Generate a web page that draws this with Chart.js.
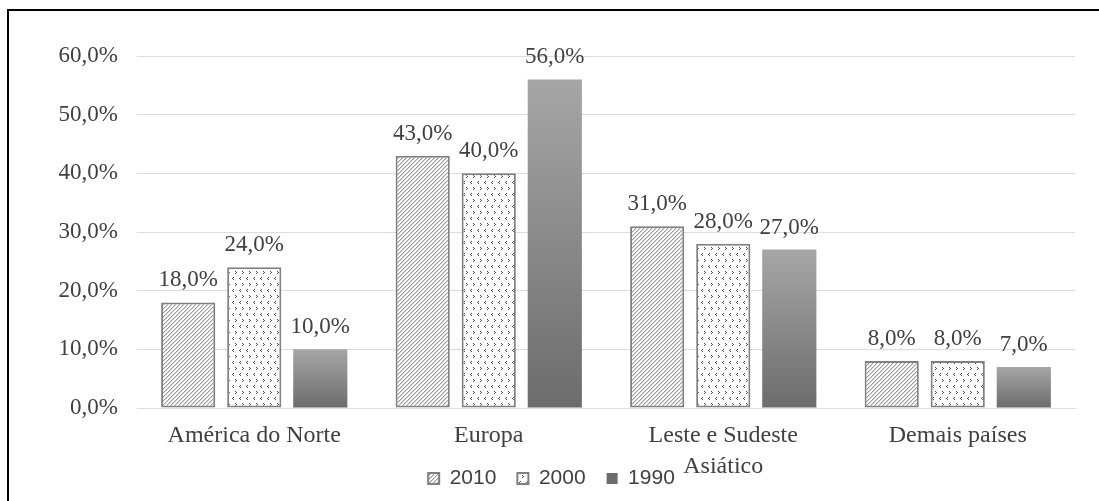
<!DOCTYPE html>
<html>
<head>
<meta charset="utf-8">
<style>
  html, body { margin: 0; padding: 0; background: #ffffff; }
  #wrap { width: 1099px; height: 501px; }
</style>
<script src="https://cdn.jsdelivr.net/npm/chart.js@4.4.1/dist/chart.umd.min.js"></script>
</head>
<body>
<div id="wrap"><canvas id="c" width="1099" height="501"></canvas></div>
<script>
// Regions (the third one wraps onto two lines)
const categories = ['América do Norte', 'Europa', ['Leste e Sudeste', 'Asiático'], 'Demais países'];
const seriesNames = ['2010', '2000', '1990'];
const values2010 = [18, 43, 31, 8];
const values2000 = [24, 40, 28, 8];
const values1990 = [10, 56, 27, 7];
const yMin = 0, yMax = 60, yStep = 10;

const fmtPct = v => v.toFixed(1).replace('.', ',') + '%';
const TEXT = '#404040';
const SERIF = "'Liberation Serif', 'Times New Roman', serif";
const SANS = "'Liberation Sans', Arial, sans-serif";

// Diagonal hatch fill
function hatchPattern() {
  const t = document.createElement('canvas');
  t.width = 4; t.height = 4;
  const g = t.getContext('2d');
  g.fillStyle = '#ffffff'; g.fillRect(0, 0, 4, 4);
  g.fillStyle = '#9a9a9a';
  for (let i = 0; i < 4; i++) g.fillRect(i, 3 - i, 1, 1);
  g.fillStyle = '#d6d6d6';
  for (let i = 0; i < 4; i++) g.fillRect(i, (4 - i) % 4, 1, 1);
  return g.createPattern(t, 'repeat');
}

// Small chevron dot fill
function chevronPattern() {
  const t = document.createElement('canvas');
  t.width = 7; t.height = 12;
  const g = t.getContext('2d');
  g.fillStyle = '#ffffff'; g.fillRect(0, 0, 7, 12);
  g.fillStyle = '#505050';
  // "<"
  g.fillRect(2, 1, 1, 1); g.fillRect(1, 2, 1, 1); g.fillRect(2, 3, 1, 1);
  // ">"
  g.fillRect(4, 7, 1, 1); g.fillRect(5, 8, 1, 1); g.fillRect(4, 9, 1, 1);
  return g.createPattern(t, 'repeat');
}

// Per-bar vertical gray gradient
function gradientFill(ctx) {
  const chart = ctx.chart;
  const y = chart.scales && chart.scales.y;
  if (ctx.dataIndex === undefined || !y || !chart.chartArea) return '#8a8a8a';
  const top = y.getPixelForValue(ctx.raw);
  const bottom = y.getPixelForValue(0);
  if (!isFinite(top) || !isFinite(bottom) || top === bottom) return '#8a8a8a';
  const gr = chart.ctx.createLinearGradient(0, top, 0, bottom);
  gr.addColorStop(0, '#a6a6a6');
  gr.addColorStop(1, '#6c6c6c');
  return gr;
}

// Let the wrapped category text run under the legend row,
// and nudge the legend row to its place
const layoutTweaks = {
  id: 'layoutTweaks',
  afterLayout(chart) {
    const x = chart.scales.x;
    x.bottom = chart.height;
    x.height = x.bottom - x.top;
    const lg = chart.legend;
    if (lg) { lg.left += 9; lg.right += 9; }
  }
};

// Outer frame lines (top and left edges)
const framePlugin = {
  id: 'frame',
  afterDraw(chart) {
    const c = chart.ctx;
    c.save();
    c.fillStyle = '#000000';
    c.fillRect(7, 9, 1099, 2);
    c.fillRect(7, 9, 2, 501);
    c.restore();
  }
};

// Value labels above each bar
const valueLabels = {
  id: 'valueLabels',
  afterDatasetsDraw(chart) {
    const c = chart.ctx;
    c.save();
    c.font = '23px ' + SERIF;
    c.fillStyle = TEXT;
    c.textAlign = 'center';
    c.textBaseline = 'alphabetic';
    chart.data.datasets.forEach((ds, di) => {
      const meta = chart.getDatasetMeta(di);
      meta.data.forEach((el, i) => {
        c.fillText(fmtPct(ds.data[i]), el.x, el.y - 16);
      });
    });
    c.restore();
  }
};

const common = { borderSkipped: false, categoryPercentage: 0.845, barPercentage: 0.82 };

new Chart(document.getElementById('c'), {
  type: 'bar',
  data: {
    labels: categories,
    datasets: [
      Object.assign({ label: seriesNames[0], data: values2010, backgroundColor: hatchPattern(), borderColor: '#808080', borderWidth: 2 }, common),
      Object.assign({ label: seriesNames[1], data: values2000, backgroundColor: chevronPattern(), borderColor: '#808080', borderWidth: 2 }, common),
      Object.assign({ label: seriesNames[2], data: values1990, backgroundColor: gradientFill, borderColor: '#8a8a8a', borderWidth: 0 }, common)
    ]
  },
  options: {
    responsive: false,
    devicePixelRatio: 1,
    animation: false,
    layout: { padding: { left: 10, right: 24, top: 56, bottom: 2 } },
    plugins: {
      legend: {
        position: 'bottom',
        labels: {
          font: { family: SANS, size: 21 },
          color: TEXT,
          boxWidth: 11,
          boxHeight: 11,
          padding: 21
        }
      },
      tooltip: { enabled: false }
    },
    scales: {
      x: {
        grid: { display: false, drawTicks: false },
        border: { display: true, color: '#d9dee6', width: 1 },
        ticks: {
          font: { family: SERIF, size: 24, lineHeight: 1.3 },
          color: TEXT,
          padding: 12,
          maxRotation: 0,
          autoSkip: false
        },
        afterFit(scale) { scale.height = 39; }
      },
      y: {
        min: yMin,
        max: yMax,
        grid: { color: '#d9dee6', drawTicks: false },
        border: { display: false },
        ticks: {
          stepSize: yStep,
          font: { family: SERIF, size: 23 },
          color: TEXT,
          padding: 19,
          callback: v => fmtPct(v)
        },
        afterFit(scale) { scale.width = 127; }
      }
    }
  },
  plugins: [layoutTweaks, valueLabels, framePlugin]
});
</script>
</body>
</html>
